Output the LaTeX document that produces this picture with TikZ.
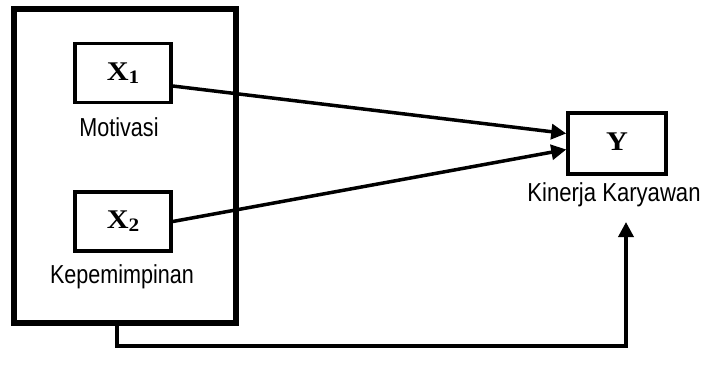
\documentclass[tikz,border=0pt]{standalone}
\usepackage{fontspec}
\setmainfont{Liberation Serif}
\newfontfamily\labelfont{Liberation Sans}
\usetikzlibrary{arrows.meta,calc}
\newcommand{\varname}[2]{\scalebox{1.12}[1]{\fontsize{27}{28}\selectfont\bfseries #1\raisebox{-3pt}{\fontsize{19}{19}\selectfont #2}}}
\begin{document}
\begin{tikzpicture}[x=1pt,y=-1pt,
  varbox/.style={draw,line width=3.5pt,minimum width=96pt,minimum height=59pt,inner sep=0pt},
  lbl/.style={inner sep=0pt,font=\labelfont\fontsize{26}{30}\selectfont},
  conn/.style={line width=3.5pt,-{Triangle[length=15pt,width=15pt]}}]
\useasboundingbox (0,0) rectangle (705,376);
\node[draw,line width=5.5pt,minimum width=222pt,minimum height=314pt,inner sep=0pt] (outer) at (125,166) {};
\node[varbox] (X1) at (123,73) {\varname{X}{1}};
\node[varbox] (X2) at (123,221.5) {\varname{X}{2}};
\node[varbox,minimum width=98pt,minimum height=61pt] (Y) at (617,143.5) {\varname{Y}{}};
\node[lbl] (l1) at (119,127) {\scalebox{0.83}[1]{Motivasi}};
\node[lbl] (l2) at (122,277) {\scalebox{0.83}[1]{Kepemimpinan}};
\node[lbl] (l3) at (614,195) {\scalebox{0.85}[1]{Kinerja Karyawan}};
\coordinate (tip) at (626,222);
\draw[conn] ([yshift=-13pt]X1.east) -- ([yshift=10pt]Y.west);
\draw[conn] (X2.east) -- ([yshift=-6pt]Y.west);
\draw[conn] ([xshift=-8pt]outer.south) -- ++(0,20) -| (tip);
\end{tikzpicture}
\end{document}
